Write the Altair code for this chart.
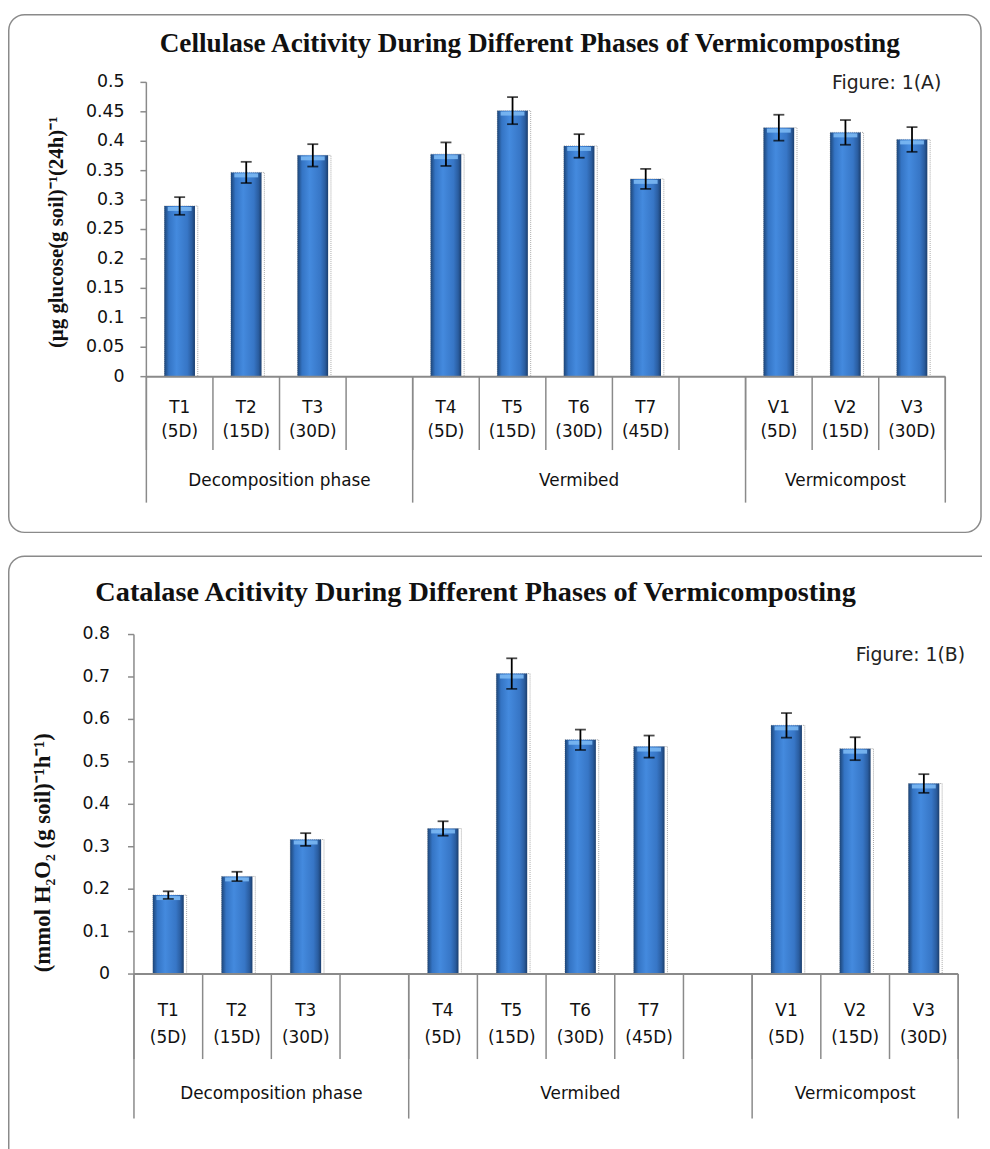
import altair as alt
import pandas as pd

# ---------------- data ----------------
slots = ["T1", "T2", "T3", "gap1", "T4", "T5", "T6", "T7", "gap2", "V1", "V2", "V3"]
slot_line1 = ["T1", "T2", "T3", "", "T4", "T5", "T6", "T7", "", "V1", "V2", "V3"]
slot_line2 = ["(5D)", "(15D)", "(30D)", "", "(5D)", "(15D)", "(30D)", "(45D)", "", "(5D)", "(15D)", "(30D)"]
groups = ["Decomposition phase", "Vermibed", "Vermicompost"]
group_first = ["T1", "T4", "V1"]
group_last = ["gap1", "gap2", "V3"]

bar_slots = ["T1", "T2", "T3", "T4", "T5", "T6", "T7", "V1", "V2", "V3"]
cellulase = [0.290, 0.347, 0.376, 0.378, 0.452, 0.392, 0.336, 0.423, 0.415, 0.403]
cellulase_err = [0.015, 0.018, 0.019, 0.020, 0.023, 0.020, 0.017, 0.022, 0.021, 0.021]
catalase = [0.186, 0.230, 0.317, 0.343, 0.708, 0.552, 0.536, 0.586, 0.531, 0.449]
catalase_err = [0.009, 0.011, 0.015, 0.017, 0.036, 0.024, 0.026, 0.029, 0.027, 0.022]
cellulase_ticks = [0, 0.05, 0.1, 0.15, 0.2, 0.25, 0.3, 0.35, 0.4, 0.45, 0.5]
catalase_ticks = [0, 0.1, 0.2, 0.3, 0.4, 0.5, 0.6, 0.7, 0.8]

title_a = "Cellulase Acitivity During Different Phases of Vermicomposting"
title_b = "Catalase Acitivity During Different Phases of Vermicomposting"
ytitle_a = "(µg glucose(g soil)⁻¹(24h)⁻¹"
ytitle_b = "(mmol H₂O₂ (g soil)⁻¹h⁻¹)"
fig_a = "Figure: 1(A)"
fig_b = "Figure: 1(B)"

GRAY = "#8a8a8a"
grad = alt.LinearGradient(
    gradient="linear", x1=0, x2=1, y1=0, y2=0,
    stops=[
        alt.GradientStop(color="#1d4577", offset=0),
        alt.GradientStop(color="#3474c4", offset=0.15),
        alt.GradientStop(color="#448ade", offset=0.4),
        alt.GradientStop(color="#3776c6", offset=0.75),
        alt.GradientStop(color="#2a5da0", offset=0.9),
        alt.GradientStop(color="#1b3e6d", offset=1),
    ],
)


def panel(values, errs, ticks, fmt, c):
    df = pd.DataFrame({"slot": bar_slots, "value": values, "err": errs})
    df["lo"] = df["value"] - df["err"]
    df["hi"] = df["value"] + df["err"]
    lab = pd.DataFrame({"slot": slots, "l1": slot_line1, "l2": slot_line2})
    lab = lab[lab["l1"] != ""]
    bdf = pd.DataFrame({"b": list(range(len(slots) + 1))})
    gdf = pd.DataFrame({"b": [slots.index(f) for f in group_first] + [len(slots)]})
    gl = pd.DataFrame({
        "g": groups,
        "c": [(slots.index(f) + slots.index(l) + 1) / 2 for f, l in zip(group_first, group_last)],
    })
    tdf = pd.DataFrame({"v": ticks})
    one = pd.DataFrame({"t": [c["title"]], "f": [c["fig"]], "y": [c["ytitle"]]})

    xr = c["xr"]
    y0, y1 = c["yr"]
    xs = alt.Scale(domain=slots, range=xr, paddingInner=0, paddingOuter=0)
    xq = alt.Scale(domain=[0, len(slots)], range=xr, nice=False, zero=False)
    ys = alt.Scale(domain=[ticks[0], ticks[-1]], range=c["yr"], nice=False)
    X = alt.X("slot:N", scale=xs, axis=None)
    Yv = alt.Y("value:Q", scale=ys, axis=None)

    box = alt.Chart(one).mark_rect(
        cornerRadius=16, fillOpacity=0, stroke=GRAY, strokeWidth=1.5
    ).encode(x=alt.value(c["box"][0]), x2=alt.value(c["box"][1]),
             y=alt.value(c["box"][2]), y2=alt.value(c["box"][3]))

    # y axis built from tick values
    ydomain = alt.Chart(one).mark_rule(color=GRAY, strokeWidth=1.5).encode(
        x=alt.value(xr[0]), y=alt.value(y0), y2=alt.value(y1)
    )
    yticks = alt.Chart(tdf).mark_rule(color=GRAY, strokeWidth=1.5).encode(
        x=alt.value(xr[0] - 6), x2=alt.value(xr[0]), y=alt.Y("v:Q", scale=ys, axis=None)
    )
    ylabels = alt.Chart(tdf).mark_text(
        font="DejaVu Sans", fontSize=17.5, color="#111", align="right", baseline="middle"
    ).encode(x=alt.value(xr[0] - c["lpad"]), y=alt.Y("v:Q", scale=ys, axis=None),
             text=alt.Text("v:Q", format=fmt))

    base = alt.Chart(df)
    shadow = base.mark_bar(
        width=alt.RelativeBandSize(c["bw"] + 0.04), fillOpacity=0, stroke="#a8a8a8",
        strokeDash=[1, 1], strokeWidth=1, xOffset=1.5
    ).encode(x=X, y=Yv)
    bars = base.mark_bar(width=alt.RelativeBandSize(c["bw"]), color=grad).encode(x=X, y=Yv)
    bevel = base.mark_tick(color="#7bb8f3", thickness=4, size=24, yOffset=3, opacity=0.9).encode(
        x=X, y=Yv
    )
    err = base.mark_rule(color="black", strokeWidth=1.8).encode(
        x=X, y=alt.Y("lo:Q", scale=ys, axis=None), y2="hi:Q"
    )
    cap_hi = base.mark_tick(color="black", thickness=1.8, size=11).encode(
        x=X, y=alt.Y("hi:Q", scale=ys, axis=None)
    )
    cap_lo = base.mark_tick(color="black", thickness=1.8, size=11).encode(
        x=X, y=alt.Y("lo:Q", scale=ys, axis=None)
    )

    xline = alt.Chart(one).mark_rule(color=GRAY, strokeWidth=2).encode(
        x=alt.value(xr[0]), x2=alt.value(xr[1]), y=alt.value(y0)
    )
    seps = alt.Chart(bdf).mark_rule(color=GRAY, strokeWidth=1.5).encode(
        x=alt.X("b:Q", scale=xq, axis=None), y=alt.value(y0), y2=alt.value(c["sep"])
    )
    gseps = alt.Chart(gdf).mark_rule(color=GRAY, strokeWidth=1.5).encode(
        x=alt.X("b:Q", scale=xq, axis=None), y=alt.value(y0), y2=alt.value(c["gsep"])
    )
    tstyle = dict(font="DejaVu Sans", fontSize=17, color="#111", baseline="middle")
    t1 = alt.Chart(lab).mark_text(**tstyle).encode(x=X, y=alt.value(c["l1y"]), text="l1:N")
    t2 = alt.Chart(lab).mark_text(**tstyle).encode(x=X, y=alt.value(c["l2y"]), text="l2:N")
    gt = alt.Chart(gl).mark_text(**tstyle).encode(
        x=alt.X("c:Q", scale=xq, axis=None), y=alt.value(c["gy"]), text="g:N"
    )
    title = alt.Chart(one).mark_text(
        font="Liberation Serif", fontWeight="bold", fontSize=c["tfs"], color="#111",
        align="center", baseline="alphabetic"
    ).encode(x=alt.value(c["tx"]), y=alt.value(c["ty"]), text="t:N")
    fig = alt.Chart(one).mark_text(
        font="DejaVu Sans", fontSize=19, color="#222", align="right", baseline="alphabetic"
    ).encode(x=alt.value(c["fx"]), y=alt.value(c["fy"]), text="f:N")
    ytl = alt.Chart(one).mark_text(
        font="Liberation Serif", fontWeight="bold", fontSize=c["yfs"], color="#111",
        align="center", baseline="middle", angle=270
    ).encode(x=alt.value(c["yx"]), y=alt.value(c["yy"]), text="y:N")

    return alt.layer(
        box, shadow, bars, bevel, err, cap_hi, cap_lo, xline, seps, gseps,
        ydomain, yticks, ylabels, t1, t2, gt, title, fig, ytl
    ).resolve_scale(x="independent")


cfg_a = dict(
    xr=[139.5, 945], yr=[367, 70.3], bw=0.46, lpad=22,
    box=[0.75, 981, 2, 524],
    l1y=399, l2y=423, sep=441, gy=472, gsep=494,
    title=title_a, tx=526, ty=40, tfs=27.5,
    fig=fig_a, fx=941, fy=77,
    ytitle=ytitle_a, yx=49, yy=221.5, yfs=21,
)
cfg_b = dict(
    xr=[127, 958], yr=[969.3, 627], bw=0.45, lpad=24,
    box=[0.75, 1100, 548, 1300],
    l1y=1007, l2y=1034, sep=1055, gy=1090, gsep=1115,
    title=title_b, tx=471.5, ty=593, tfs=28.5,
    fig=fig_b, fx=965, fy=654,
    ytitle=ytitle_b, yx=35, yy=847, yfs=23,
)

pa = panel(cellulase, cellulase_err, cellulase_ticks, ".2~f", cfg_a)
pb = panel(catalase, catalase_err, catalase_ticks, ".1~f", cfg_b)

chart = (
    alt.layer(pa, pb)
    .resolve_scale(x="independent", y="independent")
    .properties(width=982, height=1141, padding=0, autosize=alt.AutoSizeParams(type="none"))
    .configure_view(strokeWidth=0)
)

chart.save("out.html", embed_options={"renderer": "svg", "actions": False})
